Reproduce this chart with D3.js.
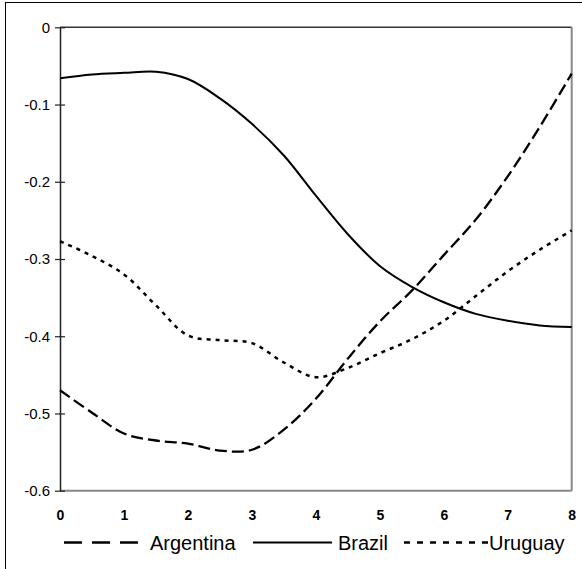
<!DOCTYPE html>
<html>
<head>
<meta charset="utf-8">
<script src="https://cdn.jsdelivr.net/npm/d3@7"></script>
<style>
html,body{margin:0;padding:0;background:#fff;}
svg{display:block;}
</style>
</head>
<body>
<script>
const xs = [0,0.5,1,1.5,2,2.5,3,3.5,4,4.5,5,5.5,6,6.5,7,7.5,8];
const argentina = [-0.470,-0.499,-0.526,-0.535,-0.539,-0.548,-0.547,-0.521,-0.481,-0.429,-0.381,-0.341,-0.295,-0.249,-0.193,-0.129,-0.060];
const brazil    = [-0.066,-0.061,-0.059,-0.0575,-0.067,-0.092,-0.125,-0.166,-0.218,-0.268,-0.309,-0.336,-0.356,-0.371,-0.380,-0.386,-0.388];
const uruguay   = [-0.277,-0.296,-0.320,-0.360,-0.399,-0.405,-0.409,-0.434,-0.453,-0.441,-0.422,-0.404,-0.380,-0.348,-0.316,-0.288,-0.263];
const xTicks = [0,1,2,3,4,5,6,7,8];
const yTicks = [0,-0.1,-0.2,-0.3,-0.4,-0.5,-0.6];
const seriesNames = ["Argentina","Brazil","Uruguay"];

const W = 582, H = 569;
const svg = d3.select("body").append("svg").attr("width", W).attr("height", H);

// outer frame
svg.append("rect").attr("x",5.5).attr("y",2.5).attr("width",600).attr("height",600)
  .attr("fill","none").attr("stroke","#000").attr("stroke-width",1);

const L = 60, R = 571.7, T = 27.3, B = 490.7;
const x = d3.scaleLinear().domain([0,8]).range([L,R]);
const y = d3.scaleLinear().domain([-0.6,0]).range([B,T]);

// plot frame
svg.append("line").attr("x1",L).attr("x2",R).attr("y1",T).attr("y2",T).attr("stroke","#333").attr("stroke-width",1.5);
svg.append("line").attr("x1",R).attr("x2",R).attr("y1",T).attr("y2",B).attr("stroke","#888").attr("stroke-width",2);
svg.append("line").attr("x1",L).attr("x2",R).attr("y1",B).attr("y2",B).attr("stroke","#888").attr("stroke-width",2);

// y axis
const yAxis = d3.axisLeft(y).tickValues(yTicks).tickSize(0).tickPadding(10)
  .tickFormat(d => d === 0 ? "0" : d3.format(".1f")(d).replace("−","-"));
const gy = svg.append("g").attr("transform",`translate(${L},0)`).call(yAxis);
gy.select(".domain").attr("stroke","#222").attr("stroke-width",1.5);
gy.selectAll(".tick line").remove();
gy.selectAll(".tick").append("line").attr("x1",-5).attr("x2",5).attr("stroke","#222").attr("stroke-width",1.2);
gy.selectAll("text").attr("font-family","Liberation Sans, Arial, sans-serif").attr("font-size",15).attr("fill","#000");

// x axis labels
const xAxis = d3.axisBottom(x).tickValues(xTicks).tickSize(0).tickPadding(19).tickFormat(d3.format("d"));
const gx = svg.append("g").attr("transform",`translate(0,${B})`).call(xAxis);
gx.select(".domain").remove();
gx.selectAll("text").attr("font-family","Liberation Sans, Arial, sans-serif").attr("font-size",14).attr("font-weight","bold").attr("fill","#000");

const line = d3.line().x((d,i)=>x(xs[i])).y(d=>y(d)).curve(d3.curveCatmullRom.alpha(0.5));

const styles = [
  {data: argentina, dash: "12,5", w: 2.3},
  {data: brazil, dash: null, w: 2},
  {data: uruguay, dash: "4,5", w: 2.5}
];
styles.forEach(s => {
  svg.append("path").attr("d", line(s.data)).attr("fill","none").attr("stroke","#000")
    .attr("stroke-width", s.w).attr("stroke-dasharray", s.dash);
});

// legend
const legY = 542.5;
const leg = [
  {name: seriesNames[0], x1: 64, x2: 138, tx: 150, dash: "18,10", w: 2.5},
  {name: seriesNames[1], x1: 253, x2: 332, tx: 338, dash: null, w: 2},
  {name: seriesNames[2], x1: 404, x2: 488, tx: 489, dash: "6,7", w: 2.5}
];
leg.forEach(l => {
  svg.append("line").attr("x1",l.x1).attr("x2",l.x2).attr("y1",legY).attr("y2",legY)
    .attr("stroke","#000").attr("stroke-width",l.w).attr("stroke-dasharray",l.dash);
  svg.append("text").attr("x",l.tx).attr("y",legY+7).text(l.name)
    .attr("font-family","Liberation Sans, Arial, sans-serif").attr("font-size",20).attr("fill","#000");
});
</script>
</body>
</html>
